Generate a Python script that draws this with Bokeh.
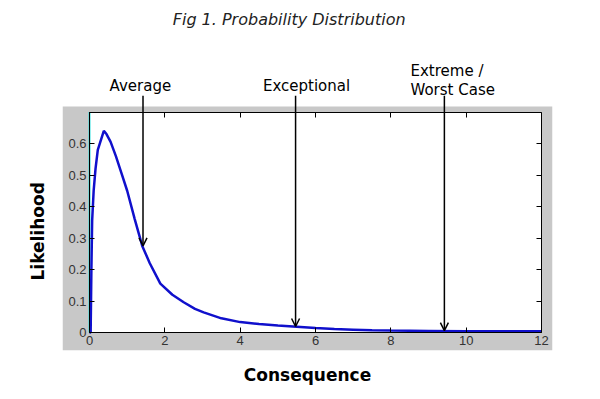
from bokeh.plotting import figure
from bokeh.models import (LinearAxis, Range1d, BoxAnnotation, Arrow, OpenHead,
                          FixedTicker, Title)
from bokeh.core.properties import value
from bokeh.embed import file_html
from bokeh.resources import INLINE

# ---- data ----
consequence = [0.0, 0.03, 0.05, 0.07, 0.11, 0.16, 0.22, 0.3, 0.38, 0.45, 0.56,
               0.7, 0.85, 1.0, 1.2, 1.4, 1.6, 1.88, 2.2, 2.5, 2.8, 3.03, 3.5,
               4.0, 4.5, 5.0, 5.5, 6.0, 6.5, 7.0, 7.5, 8.0, 9.0, 10.0, 11.0, 12.0]
likelihood = [0.0, 0.0, 0.2, 0.355, 0.45, 0.52, 0.58, 0.61, 0.64, 0.63, 0.605,
              0.56, 0.505, 0.45, 0.36, 0.275, 0.22, 0.155, 0.12, 0.096, 0.075,
              0.064, 0.045, 0.033, 0.027, 0.022, 0.018, 0.014, 0.011, 0.009,
              0.007, 0.006, 0.005, 0.004, 0.004, 0.004]

x_ticks = [0, 2, 4, 6, 8, 10, 12]
y_ticks = [0, 0.1, 0.2, 0.3, 0.4, 0.5, 0.6]

marker_labels = ["Average", "Exceptional", "Extreme /\nWorst Case"]
marker_x = [1.42, 5.47, 9.42]
marker_y = [0.275, 0.019, 0.006]
label_x = [1.35, 5.76, 8.52]

TITLE = "Fig 1. Probability Distribution"
GRAY = "#c8c8c8"
FONT = "DejaVu Sans"

p = figure(width=600, height=399, output_backend="svg", toolbar_location=None,
           x_range=Range1d(-0.717, 12.29), y_range=Range1d(-0.0571, 1.054),
           x_axis_location=None, y_axis_location=None,
           min_border_left=62, min_border_right=48, min_border_top=0,
           min_border_bottom=49)
p.title = None
p.grid.visible = False
p.outline_line_color = None
p.background_fill_color = "white"
p.border_fill_color = "white"

# gray box
p.add_layout(BoxAnnotation(top=0.7175, fill_color=GRAY, fill_alpha=1,
                           line_color=None, level="underlay"))
# white plotting area
p.add_layout(BoxAnnotation(left=0, right=12, bottom=0, top=0.7,
                           fill_color="white", fill_alpha=1,
                           line_color=None, level="underlay"))

def mk_axis(loc, ticks, bounds, labels=True):
    ax = LinearAxis(fixed_location=loc, ticker=FixedTicker(ticks=ticks),
                    bounds=bounds)
    ax.axis_line_color = "black"
    ax.axis_line_width = 1
    ax.major_tick_in = 5
    ax.major_tick_out = 0
    ax.minor_tick_line_color = None
    ax.major_tick_line_color = "black"
    if labels:
        ax.major_label_text_font = "Liberation Sans"
        ax.major_label_text_font_size = "13px"
        ax.major_label_text_color = "#333333"
        ax.major_label_standoff = 3
    else:
        ax.major_label_overrides = {t: "" for t in ticks}
        ax.major_label_standoff = 0
    return ax

ax_b = mk_axis(0, x_ticks, (0, 12))
ax_l = mk_axis(0, y_ticks, (0, 0.7))
ax_t = mk_axis(0.7, x_ticks, (0, 12), labels=False)
ax_r = mk_axis(12, y_ticks, (0, 0.7), labels=False)
p.add_layout(ax_b, "below")
p.add_layout(ax_l, "left")
p.add_layout(ax_t, "above")
p.add_layout(ax_r, "right")

# y axis title, placed along the gray box
lab_l = Title(text="Likelihood", align="left", offset=70, standoff=30,
              vertical_align="bottom", text_font=FONT,
              text_font_style="bold", text_font_size="17px",
              text_color="black")
p.add_layout(lab_l, "left")

# x axis title
lab_b = LinearAxis(axis_label="Consequence", ticker=FixedTicker(ticks=[]),
                   axis_label_standoff=14, bounds=(0, 12))
lab_b.axis_line_color = None
lab_b.major_tick_line_color = None
lab_b.minor_tick_line_color = None
lab_b.axis_label_text_font = FONT
lab_b.axis_label_text_font_style = "bold"
lab_b.axis_label_text_font_size = "17px"
lab_b.axis_label_text_color = "black"
p.add_layout(lab_b, "below")

# chart title
p.text(x=[5.3], y=[0.9937], text=[TITLE], text_font=value(FONT),
       text_font_style="italic", text_font_size="16px", text_align="center",
       text_baseline="middle", text_color="#222222")

# vertical lines at x=0
p.line([0, 0], [0, 0.7], line_color="#33e0e0", line_width=2)
p.line([0, 0], [0, 0.7], line_color="black", line_width=1, line_dash="4 3")

# distribution curve
p.line(consequence, likelihood, line_color="#1010cc", line_width=2.5)

# arrows and labels
for mx, my in zip(marker_x, marker_y):
    p.add_layout(Arrow(end=OpenHead(size=8, line_width=1.5, line_color="black"),
                       x_start=mx, y_start=0.752, x_end=mx, y_end=my,
                       line_color="black", line_width=1.5))

p.text(x=label_x[:2], y=[0.781, 0.781], text=marker_labels[:2],
       text_font=value(FONT), text_font_size="15px", text_align="center",
       text_baseline="middle", text_color="black")
p.text(x=[label_x[2]], y=[0.8], text=[marker_labels[2]],
       text_font=value(FONT), text_font_size="15px", text_align="left",
       text_baseline="middle", text_color="black", text_line_height=1.1)

open("out.html", "w").write(file_html(p, INLINE))
